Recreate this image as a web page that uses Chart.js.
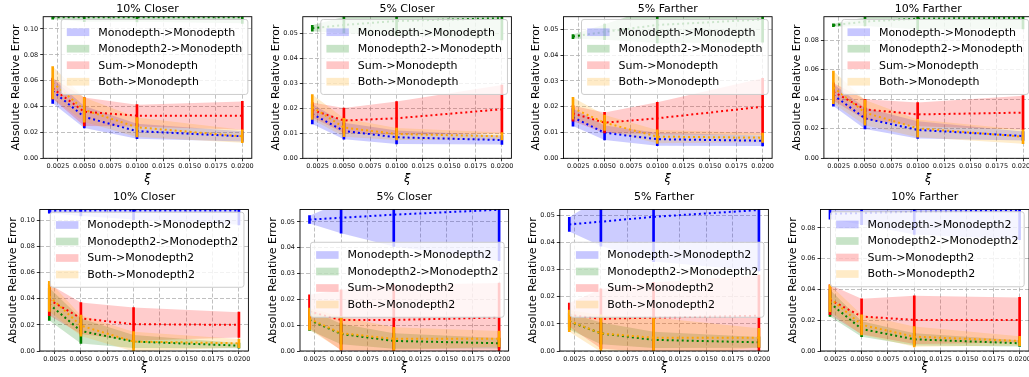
<!DOCTYPE html>
<html><head><meta charset="utf-8">
<script src="https://cdn.jsdelivr.net/npm/chart.js@4.4.1/dist/chart.umd.min.js"></script>
<style>
html,body{margin:0;padding:0;background:#fff;overflow:hidden;width:1029px;height:377px;position:relative;}
canvas{position:absolute;left:0;top:0;}
</style></head><body>
<script>
// ---------- data ----------
const XI = [0.002, 0.005, 0.010, 0.020];
const X_TICKS = [0.0025, 0.0050, 0.0075, 0.0100, 0.0125, 0.0150, 0.0175, 0.0200];
const Y_TICKS_A = [0.00, 0.02, 0.04, 0.06, 0.08, 0.10];
const Y_TICKS_B = [0.00, 0.01, 0.02, 0.03, 0.04, 0.05];
const Y_TICKS_C = [0.00, 0.02, 0.04, 0.06, 0.08];
const TITLES = ['10% Closer', '5% Closer', '5% Farther', '10% Farther'];
const LABELS_TOP = ['Monodepth->Monodepth', 'Monodepth2->Monodepth', 'Sum->Monodepth', 'Both->Monodepth'];
const LABELS_BOTTOM = ['Monodepth->Monodepth2', 'Monodepth2->Monodepth2', 'Sum->Monodepth2', 'Both->Monodepth2'];
const X_LABEL = 'ξ';
const Y_LABEL = 'Absolute Relative Error';

// series order in each: [blue, green, red, orange]
const P1_MEAN = [[0.052, 0.032, 0.021, 0.017], [0.109, 0.109, 0.109, 0.109], [0.054, 0.036, 0.033, 0.033], [0.0585, 0.0375, 0.024, 0.017]];
const P1_STD  = [[0.0095, 0.0085, 0.0058, 0.004], [0.0015, 0.0034, 0.0035, 0.0046], [0.008, 0.011, 0.0085, 0.011], [0.0125, 0.0095, 0.0075, 0.005]];
const P2_MEAN = [[0.0177, 0.0109, 0.0084, 0.0073], [0.052, 0.0533, 0.0549, 0.056], [0.0193, 0.0151, 0.016, 0.0196], [0.0205, 0.0123, 0.0097, 0.0088]];
const P2_STD  = [[0.004, 0.0033, 0.0027, 0.0018], [0.0012, 0.0033, 0.006, 0.0087], [0.003, 0.005, 0.0067, 0.0097], [0.005, 0.0037, 0.0024, 0.0015]];
const P3_MEAN = [[0.0159, 0.0099, 0.0074, 0.0068], [0.0472, 0.049, 0.0517, 0.0538], [0.0174, 0.0138, 0.0155, 0.020], [0.0194, 0.0138, 0.0084, 0.008]];
const P3_STD  = [[0.0034, 0.0028, 0.0025, 0.002], [0.0008, 0.003, 0.007, 0.0088], [0.003, 0.004, 0.0062, 0.011], [0.0042, 0.003, 0.0026, 0.0018]];
const P4_MEAN = [[0.0428, 0.027, 0.0192, 0.0151], [0.090, 0.0925, 0.0945, 0.095], [0.045, 0.0331, 0.0297, 0.0309], [0.048, 0.0309, 0.0203, 0.0146]];
const P4_STD  = [[0.0075, 0.0072, 0.0058, 0.003], [0.001, 0.003, 0.0074, 0.0075], [0.006, 0.0068, 0.008, 0.0115], [0.011, 0.0085, 0.006, 0.0047]];
const P5_MEAN = [[0.1073, 0.1073, 0.1075, 0.1075], [0.0358, 0.0153, 0.0072, 0.0041], [0.0391, 0.025, 0.0205, 0.020], [0.0417, 0.0194, 0.0072, 0.0059]];
const P5_STD  = [[0.002, 0.004, 0.007, 0.011], [0.0125, 0.0095, 0.005, 0.002], [0.012, 0.012, 0.0127, 0.0097], [0.0115, 0.008, 0.0076, 0.0033]];
const P6_MEAN = [[0.0509, 0.0516, 0.0528, 0.0547], [0.012, 0.0066, 0.0039, 0.003], [0.0153, 0.012, 0.012, 0.013], [0.0124, 0.0069, 0.0047, 0.0047]];
const P6_STD  = [[0.0015, 0.006, 0.0123, 0.0197], [0.004, 0.004, 0.003, 0.002], [0.0065, 0.0117, 0.0136, 0.0133], [0.0042, 0.0065, 0.0045, 0.003]];
const P7_MEAN = [[0.0467, 0.0477, 0.0495, 0.052], [0.0109, 0.0065, 0.0041, 0.0032], [0.0133, 0.0119, 0.0123, 0.013], [0.0111, 0.0065, 0.0049, 0.0049]];
const P7_STD  = [[0.0026, 0.009, 0.0165, 0.0225], [0.003, 0.004, 0.003, 0.002], [0.0044, 0.011, 0.013, 0.015], [0.004, 0.0068, 0.0075, 0.0035]];
const P8_MEAN = [[0.0891, 0.0896, 0.0904, 0.0913], [0.0311, 0.0143, 0.0076, 0.005], [0.0333, 0.0224, 0.0202, 0.0202], [0.0343, 0.017, 0.0093, 0.0065]];
const P8_STD  = [[0.0035, 0.0075, 0.0147, 0.019], [0.0087, 0.005, 0.004, 0.002], [0.0097, 0.0115, 0.0157, 0.0146], [0.0087, 0.0065, 0.0066, 0.003]];

// ---------- styling / layout ----------
const FONT = '"DejaVu Sans", sans-serif';
Chart.defaults.font.family = FONT;
const COLORS = ['#0000ff', '#008000', '#ff0000', '#ffa500'];
const CW = 1040, CH = 377, YW = 40;
const X_RANGE = [0.0011, 0.0209];

const ROWS = [
  {titlePadBottom: 0.7, xh: 27.2},
  {titlePadBottom: 6.0, xh: 23.0}
];

const PLOTS = [
  {title: TITLES[0], labels: LABELS_TOP, mean: P1_MEAN, std: P1_STD, yTicks: Y_TICKS_A, yMax: 0.1095, rect: [43.2, 16.7, 251.8, 158.3], row: 0, leg: [18, 15.5]},
  {title: TITLES[1], labels: LABELS_TOP, mean: P2_MEAN, std: P2_STD, yTicks: Y_TICKS_B, yMax: 0.0566, rect: [302.8, 16.7, 511.4, 158.3], row: 0, leg: [18, 15.5]},
  {title: TITLES[2], labels: LABELS_TOP, mean: P3_MEAN, std: P3_STD, yTicks: Y_TICKS_B, yMax: 0.0549, rect: [563.5, 16.7, 772.1, 158.3], row: 0, leg: [18, 15.5]},
  {title: TITLES[3], labels: LABELS_TOP, mean: P4_MEAN, std: P4_STD, yTicks: Y_TICKS_C, yMax: 0.0958, rect: [823.9, 16.7, 1032.5, 158.3], row: 0, leg: [18, 15.5]},
  {title: TITLES[0], labels: LABELS_BOTTOM, mean: P5_MEAN, std: P5_STD, yTicks: Y_TICKS_A, yMax: 0.1082, rect: [39.8, 209.5, 248.4, 351], row: 1, leg: [10.5, 15.5]},
  {title: TITLES[1], labels: LABELS_BOTTOM, mean: P6_MEAN, std: P6_STD, yTicks: Y_TICKS_B, yMax: 0.0548, rect: [300.0, 209.5, 508.6, 351], row: 1, leg: [10.5, 45.5]},
  {title: TITLES[2], labels: LABELS_BOTTOM, mean: P7_MEAN, std: P7_STD, yTicks: Y_TICKS_B, yMax: 0.0522, rect: [559.8, 209.5, 768.4, 351], row: 1, leg: [10.5, 45.5]},
  {title: TITLES[3], labels: LABELS_BOTTOM, mean: P8_MEAN, std: P8_STD, yTicks: Y_TICKS_C, yMax: 0.0919, rect: [820.5, 209.5, 1029.1, 351], row: 1, leg: [10.0, 15.0]}
];

function rgba(hex, a) {
  const n = parseInt(hex.slice(1), 16);
  return `rgba(${(n >> 16) & 255},${(n >> 8) & 255},${n & 255},${a})`;
}

function framePlugin(p) {
  return {
    id: 'mplFrame',
    afterDatasetsDraw(chart) {
      const {ctx, chartArea: a} = chart;
      ctx.save();
      ctx.strokeStyle = '#000';
      ctx.lineWidth = 0.9;
      ctx.strokeRect(a.left, a.top, a.right - a.left, a.bottom - a.top);
      // legend
      ctx.font = '11px ' + FONT;
      const tw = Math.max(...p.labels.map(l => ctx.measureText(l).width));
      const pad = 5.6, hw = 22.5, hh = 7.7, gap = 8.9, row = 16.5;
      const x0 = a.left + p.leg[0];
      const cy0 = a.top + p.leg[1];
      const w = pad + hw + gap + tw + pad;
      const y0 = cy0 - row / 2 - 4.5;
      const h = row * 4 + 9;
      ctx.beginPath();
      ctx.roundRect(x0, y0, w, h, 2.5);
      ctx.fillStyle = 'rgba(255,255,255,0.8)';
      ctx.fill();
      ctx.strokeStyle = '#cccccc';
      ctx.lineWidth = 1;
      ctx.stroke();
      ctx.textBaseline = 'middle';
      ctx.textAlign = 'left';
      p.labels.forEach((lab, i) => {
        const cy = cy0 + i * row;
        ctx.fillStyle = rgba(COLORS[i], 0.22);
        ctx.fillRect(x0 + pad, cy - hh / 2, hw, hh);
        ctx.fillStyle = '#000';
        ctx.fillText(lab, x0 + pad + hw + gap, cy + 0.5);
      });
      ctx.restore();
    }
  };
}

PLOTS.forEach(p => {
  const [L, T, R, B] = p.rect;
  const rowCfg = ROWS[p.row];
  const TB = 2 + 13 + rowCfg.titlePadBottom;
  const XH = rowCfg.xh;
  const canvas = document.createElement('canvas');
  canvas.width = CW; canvas.height = CH;
  canvas.style.width = CW + 'px'; canvas.style.height = CH + 'px';
  document.body.appendChild(canvas);

  const datasets = [];
  p.mean.forEach((m, i) => {
    const s = p.std[i];
    const c = COLORS[i];
    const lo = m.map((v, k) => v - s[k]);
    const hi = m.map((v, k) => v + s[k]);
    datasets.push({type: 'line', data: XI.map((x, k) => ({x, y: hi[k]})), borderColor: 'rgba(0,0,0,0)', borderWidth: 0,
      pointRadius: 0, fill: '+1', backgroundColor: rgba(c, 0.2), order: 50 - i, tension: 0});
    datasets.push({type: 'line', data: XI.map((x, k) => ({x, y: lo[k]})), borderColor: 'rgba(0,0,0,0)', borderWidth: 0,
      pointRadius: 0, fill: false, order: 50 - i, tension: 0});
    datasets.push({type: 'bar', data: XI.map((x, k) => ({x, y: [lo[k], hi[k]]})), backgroundColor: c, borderWidth: 0,
      barThickness: 2, grouped: false, order: 20 - 2 * i});
    datasets.push({type: 'line', data: XI.map((x, k) => ({x, y: m[k]})), borderColor: c, borderWidth: 2, borderDash: [2, 3],
      borderCapStyle: 'butt', pointRadius: 0, fill: false, order: 19 - 2 * i, tension: 0});
  });

  new Chart(canvas, {
    type: 'line',
    data: {datasets},
    plugins: [framePlugin(p)],
    options: {
      responsive: false, animation: false, devicePixelRatio: 1,
      layout: {padding: {left: L - YW, top: T - TB, right: CW - R, bottom: CH - B - XH}},
      plugins: {
        legend: {display: false}, tooltip: {enabled: false},
        title: {display: true, text: p.title, fullSize: false, color: '#000',
          font: {size: 11, weight: 'normal', lineHeight: '13px'}, padding: {top: 2, bottom: rowCfg.titlePadBottom}}
      },
      scales: {
        x: {
          type: 'linear', min: X_RANGE[0], max: X_RANGE[1], offset: false,
          afterBuildTicks: s => { s.ticks = X_TICKS.map(v => ({value: v})); },
          afterFit: s => { s.height = XH; },
          ticks: {autoSkip: false, maxRotation: 0, minRotation: 0, color: '#111', padding: 1,
            font: {size: 6.5}, callback: v => Number(v).toFixed(4)},
          grid: {color: '#b0b0b0', lineWidth: 0.8, offset: false, drawTicks: true, tickLength: 3, tickColor: '#000', tickWidth: 0.8},
          border: {display: false, dash: [4, 2]},
          title: {display: true, text: X_LABEL, color: '#000', padding: 0,
            font: {size: 11.5, style: 'italic', lineHeight: '13px'}}
        },
        y: {
          type: 'linear', min: 0, max: p.yMax,
          afterBuildTicks: s => { s.ticks = p.yTicks.map(v => ({value: v})); },
          afterFit: s => { s.width = YW; },
          ticks: {color: '#111', padding: 2, font: {size: 6.5}, callback: v => Number(v).toFixed(2)},
          grid: {color: '#b0b0b0', lineWidth: 0.8, drawTicks: true, tickLength: 3, tickColor: '#000', tickWidth: 0.8},
          border: {display: false, dash: [4, 2]},
          title: {display: true, text: Y_LABEL, color: '#000', padding: {top: 6.5, bottom: 0},
            font: {size: 11, lineHeight: '13px'}}
        }
      }
    }
  });
});
</script>
</body></html>
